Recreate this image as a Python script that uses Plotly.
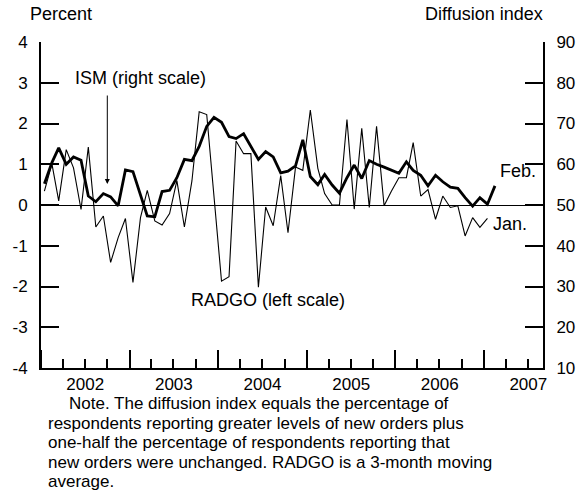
import pandas as pd
import plotly.graph_objects as go

# ISM new orders diffusion index (right scale), monthly Jan 2002 - Feb 2007
ism = [55.2, 60.4, 64.0, 60.0, 61.8, 61.0, 52.2, 50.8, 52.8, 52.0, 49.8, 58.6,
       58.2, 52.6, 47.3, 47.1, 53.3, 53.6, 56.7, 61.2, 60.9, 64.4, 69.3, 71.5,
       70.3, 66.8, 66.3, 67.5, 64.4, 61.2, 63.1, 61.8, 57.9, 58.3, 59.6, 66.0,
       57.0, 55.0, 57.5, 54.9, 52.9, 56.7, 59.8, 56.5, 60.9, 60.0, 59.3, 58.5,
       57.8, 60.6, 58.5, 57.3, 54.7, 57.3, 55.7, 54.4, 54.1, 51.8, 49.7, 51.8,
       50.2, 54.7]

# RADGO, percent (left scale), monthly Jan 2002 - Jan 2007
radgo = [0.34, 1.01, 0.10, 1.36, 0.91, -0.11, 1.42, -0.54, -0.27, -1.41, -0.80, -0.33,
         -1.90, -0.31, 0.36, -0.39, -0.49, -0.21, 0.60, -0.54, 0.59, 2.29, 2.22, 0.15,
         -1.87, -1.76, 1.57, 1.26, 1.26, -2.02, -0.05, -0.51, 0.72, -0.68, 0.93, 0.85,
         2.33, 0.90, 0.28, 0.00, 0.00, 2.10, -0.10, 1.88, -0.06, 1.93, -0.02, 0.34,
         0.67, 0.67, 1.53, 0.22, 0.38, -0.35, 0.22, -0.06, -0.02, -0.76, -0.31, -0.55,
         -0.33]

left_ticks = [4, 3, 2, 1, 0, -1, -2, -3, -4]
left_labels = ["4", "3", "2", "1", "0", "-1", "-2", "-3", "-4"]
right_ticks = [10, 20, 30, 40, 50, 60, 70, 80, 90]

ism_dates = pd.date_range("2002-01-01", periods=len(ism), freq="MS") + pd.Timedelta(days=14)
radgo_dates = pd.date_range("2002-01-01", periods=len(radgo), freq="MS") + pd.Timedelta(days=14)

FONT = "Arial, Liberation Sans, sans-serif"
W, H = 587, 500
L, R, T, B = 40, 42, 42, 132
PW, PH = W - L - R, H - T - B


def px(x):
    return (x - L) / PW


def py(y):
    return (H - B - y) / PH


fig = go.Figure()
fig.add_trace(go.Scatter(x=radgo_dates, y=radgo, mode="lines",
                         line=dict(color="black", width=1.1), yaxis="y", showlegend=False))
fig.add_trace(go.Scatter(x=ism_dates, y=ism, mode="lines",
                         line=dict(color="black", width=2.8), yaxis="y2", showlegend=False))

fig.update_layout(
    width=W, height=H, autosize=False,
    margin=dict(l=L, r=R, t=T, b=B),
    paper_bgcolor="white", plot_bgcolor="white",
    font=dict(family=FONT, size=17, color="black"),
    xaxis=dict(
        type="date", range=["2002-01-01", "2007-09-01"],
        tick0="2002-01-01", dtick="M12", tickformat="%Y", ticklabelmode="period",
        ticks="inside", ticklen=18, tickwidth=2, tickcolor="black",
        minor=dict(dtick="M3", ticks="inside", ticklen=9, tickwidth=2, tickcolor="black"),
        showline=True, linecolor="black", linewidth=2, showgrid=False, zeroline=False,
        tickfont=dict(size=17),
    ),
    yaxis=dict(
        range=[-4, 4], tickvals=left_ticks, ticktext=left_labels,
        ticks="inside", ticklen=18, tickwidth=2, tickcolor="black",
        showline=True, linecolor="black", linewidth=2, showgrid=False,
        zeroline=True, zerolinecolor="black", zerolinewidth=1,
        ticklabelstandoff=8, tickfont=dict(size=17),
    ),
    yaxis2=dict(
        range=[10, 90], tickvals=right_ticks, overlaying="y", side="right",
        ticks="inside", ticklen=18, tickwidth=2, tickcolor="black",
        showline=True, linecolor="black", linewidth=2, showgrid=False, zeroline=False,
        ticklabelstandoff=8, tickfont=dict(size=17),
    ),
)

ann = []
ann.append(dict(text="Percent", x=px(60), y=py(14), xref="paper", yref="paper",
                showarrow=False, xanchor="center", yanchor="middle", font=dict(size=18)))
ann.append(dict(text="Diffusion index", x=px(486), y=py(14), xref="paper", yref="paper",
                showarrow=False, xanchor="center", yanchor="middle", font=dict(size=18)))
ann.append(dict(text="ISM (right scale)", x=px(140), y=py(78), xref="paper", yref="paper",
                showarrow=False, xanchor="center", yanchor="middle", font=dict(size=18)))
ann.append(dict(text="", x=px(106.7), y=py(184), xref="paper", yref="paper",
                showarrow=True, ax=0, ay=-90, arrowhead=2, arrowsize=1, arrowwidth=1,
                arrowcolor="black"))
ann.append(dict(text="RADGO (left scale)", x=px(268), y=py(300), xref="paper", yref="paper",
                showarrow=False, xanchor="center", yanchor="middle", font=dict(size=18)))
ann.append(dict(text="Feb.", x=px(500), y=py(171), xref="paper", yref="paper",
                showarrow=False, xanchor="left", yanchor="middle", font=dict(size=18)))
ann.append(dict(text="Jan.", x=px(493), y=py(224), xref="paper", yref="paper",
                showarrow=False, xanchor="left", yanchor="middle", font=dict(size=18)))

note_lines = [
    "Note. The diffusion index equals the percentage of",
    "respondents reporting greater levels of new orders plus",
    "one-half the percentage of respondents reporting that",
    "new orders were unchanged. RADGO is a 3-month moving",
    "average.",
]
note_x = [67, 46, 46, 46, 46]
note_y = [403.5, 423, 442.5, 462, 481.5]
for t, xx, yy in zip(note_lines, note_x, note_y):
    ann.append(dict(text=t, x=px(xx), y=py(yy), xref="paper", yref="paper",
                    showarrow=False, xanchor="left", yanchor="middle", borderpad=0,
                    font=dict(size=17)))

fig.update_layout(annotations=ann)
fig.write_html("out.html", config={"displayModeBar": False},
               post_script="document.body.style.margin='0';document.body.style.overflow='hidden';")
